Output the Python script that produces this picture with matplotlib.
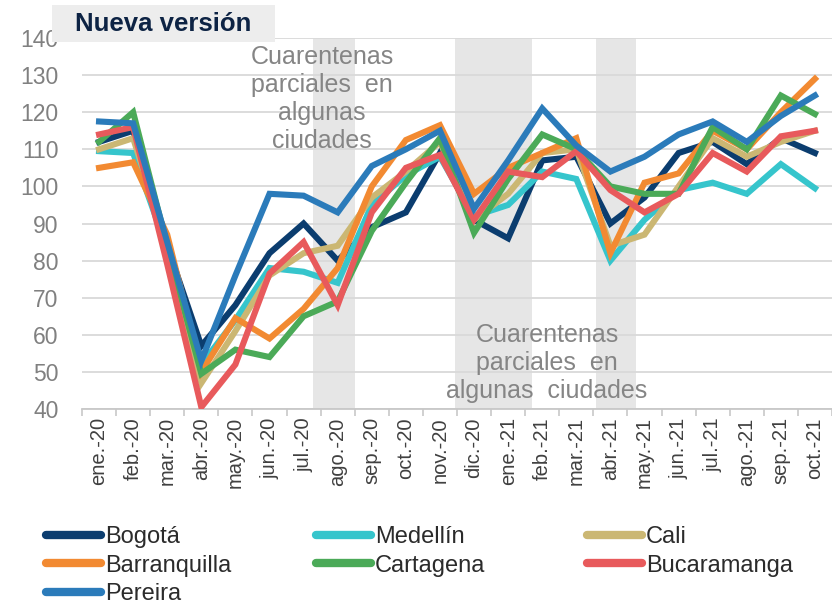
import matplotlib
matplotlib.use("Agg")
import matplotlib.pyplot as plt
from matplotlib.patches import Rectangle
from matplotlib.lines import Line2D

plt.rcParams['font.family'] = ['Liberation Sans', 'DejaVu Sans']

months = ["ene.-20", "feb.-20", "mar.-20", "abr.-20", "may.-20", "jun.-20", "jul.-20",
          "ago.-20", "sep.-20", "oct.-20", "nov.-20", "dic.-20", "ene.-21", "feb.-21",
          "mar.-21", "abr.-21", "may.-21", "jun.-21", "jul.-21", "ago.-21", "sep.-21", "oct.-21"]

bogota       = [112, 115, 84, 57, 68, 82, 90, 80, 89, 93, 109, 91, 86, 107, 108, 90, 97, 109, 112, 106, 113, 109]
medellin     = [109.5, 109, 83, 52, 64, 78, 77, 74, 95, 103, 108, 92, 95, 104, 102, 80, 91, 99, 101, 98, 106, 99.5]
cali         = [110, 113, 84, 47, 61, 76, 82, 84, 97, 104, 112, 91, 98, 109, 110, 84, 87, 100, 113, 108, 112, 115]
barranquilla = [105, 106.5, 87, 50, 64.5, 59, 67, 78, 100, 112.5, 116.5, 98, 105, 109, 113, 82, 101, 103.5, 115, 110, 120, 129]
cartagena    = [112, 120, 84, 49.5, 56, 54, 65, 69, 88, 101, 113, 87.5, 102, 114, 110, 100, 98, 98, 116, 110, 124.5, 119.5]
bucaramanga  = [114, 116, 79, 40.5, 52, 76.5, 85, 68, 93, 105, 108.5, 91, 104, 102.5, 109.5, 99, 93, 98, 109, 104, 113.5, 115]
pereira      = [117.5, 117, 85, 53, 76, 98, 97.5, 93, 105.5, 110, 115, 94, 107, 121, 111, 104, 108, 114, 117.5, 112, 119, 124.5]

series = [
    ("Bogotá", bogota, "#0B3D6F"),
    ("Medellín", medellin, "#36C5CC"),
    ("Cali", cali, "#CBB773"),
    ("Barranquilla", barranquilla, "#F28A32"),
    ("Cartagena", cartagena, "#4BAA58"),
    ("Bucaramanga", bucaramanga, "#E85A5C"),
    ("Pereira", pereira, "#2B7BBA"),
]

W, H = 832, 607
fig = plt.figure(figsize=(W / 100, H / 100), dpi=100)
ax = fig.add_axes([82 / W, 1 - 409 / H, 1 - 82 / W, (409 - 38) / H])

x = list(range(len(months)))

# shaded quarantine periods
for a, b in [(6.28, 7.5), (10.45, 12.7), (14.57, 15.75)]:
    ax.axvspan(a, b, color="#E6E6E6", zorder=0, lw=0)

for name, vals, col in series:
    ax.plot(x, vals, color=col, lw=4.4, solid_joinstyle="miter", zorder=3, label=name)

ax.set_xlim(-0.5, len(months) - 0.5)
ax.set_ylim(40, 140)
ax.set_yticks(range(40, 141, 10))
ax.yaxis.grid(True, color="#D9D9D9", lw=1.3, zorder=1)
ax.set_axisbelow(True)
for s in ["top", "right", "left"]:
    ax.spines[s].set_visible(False)
ax.spines["bottom"].set_color("#C8C8C8")
ax.spines["bottom"].set_linewidth(1.3)

ax.tick_params(axis="y", length=0, pad=17, labelsize=16.5, labelcolor="#808080")
ax.set_xticks(x)
ax.set_xticklabels(months, rotation=90, fontsize=14.5, color="#404040")
ax.tick_params(axis="x", which="major", length=0, pad=6)
ax.set_xticks([i - 0.5 for i in range(len(months) + 1)], minor=True)
ax.tick_params(axis="x", which="minor", length=5, color="#C8C8C8", width=1.2)

ann_kw = dict(ha="center", va="center", fontsize=18, color="#858585", linespacing=1.2, zorder=4)
ax.text(6.54, 123.6, "Cuarentenas\nparciales  en\nalgunas\nciudades", **ann_kw)
ax.text(13.14, 52.4, "Cuarentenas\nparciales  en\nalgunas  ciudades", **ann_kw)

# title box
fig.patches.append(Rectangle((52 / W, 1 - 42 / H), 223 / W, 37 / H, transform=fig.transFigure,
                             facecolor="#EDEDED", edgecolor="none", zorder=5))
fig.text(163 / W, 1 - 24 / H, "Nueva versión", ha="center", va="center", fontsize=18.5,
         fontweight="bold", color="#0D2344", zorder=6)

# legend in three fixed columns
handles = {name: Line2D([], [], color=col, lw=6, solid_capstyle="round") for name, _, col in series}
cols = [(["Bogotá", "Barranquilla", "Pereira"], 46), (["Medellín", "Cartagena"], 316), (["Cali", "Bucaramanga"], 587)]
for names, xp in cols:
    leg = fig.legend([handles[n] for n in names], names, loc="upper left",
                     bbox_to_anchor=(xp / W, 1 - 526 / H), frameon=False, fontsize=17,
                     handlelength=2.35, handletextpad=0.15, labelspacing=0.28,
                     borderpad=0, borderaxespad=0)
    for t in leg.get_texts():
        t.set_color("#2B2B2B")

fig.savefig("out.png", dpi=100)
